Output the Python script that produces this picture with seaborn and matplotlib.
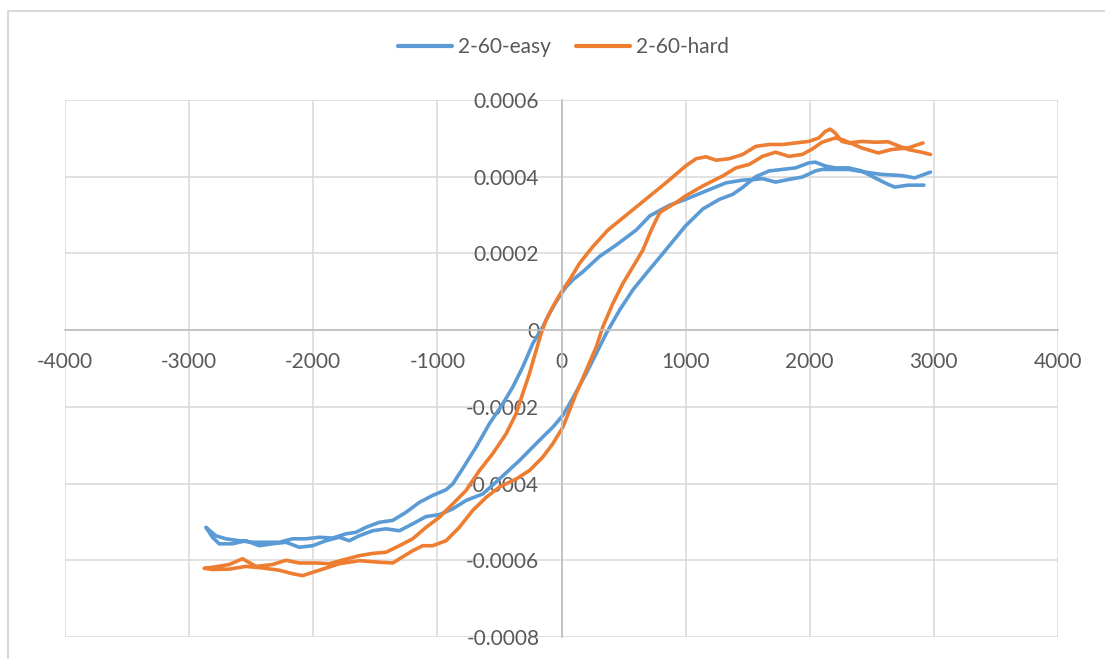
import numpy as np
import pandas as pd
import matplotlib
matplotlib.use("Agg")
import matplotlib.pyplot as plt
import seaborn as sns
from matplotlib.patches import Rectangle

# ---------------- data ----------------
series_names = ["2-60-easy", "2-60-hard"]
series_colors = ["#5B9BD5", "#ED7D31"]

easy_x = [2973, 2845, 2739, 2579, 2445, 2312, 2205, 2099, 2045, 1939, 1832, 1725, 1619, 1565,
          1459, 1325, 1165, 1000, 872, 712, 602, 441, 306, 172, 91, 38, 0, -43, -97, -151,
          -231, -312, -392, -473, -581, -688, -796, -876, -930, -1038, -1145, -1253, -1360,
          -1468, -1575, -1656, -1736, -1844, -1951, -2059, -2167, -2274, -2382, -2489, -2597,
          -2704, -2785, -2865,
          -2812, -2758, -2650, -2543, -2435, -2328, -2220, -2113, -2005, -1898, -1790, -1710,
          -1629, -1521, -1414, -1306, -1199, -1091, -984, -876, -769, -634, -500, -339, -177,
          -70, 11, 65, 118, 199, 280, 360, 468, 575, 683, 817, 1000, 1139, 1272, 1379, 1459,
          1565, 1672, 1779, 1885, 1992, 2045, 2125, 2205, 2312, 2419, 2525, 2632, 2685, 2792,
          2920]
easy_y = [0.000412, 0.000397, 0.000403, 0.000406, 0.000412, 0.000419, 0.000419, 0.000419,
          0.000415, 0.000399, 0.000393, 0.000386, 0.000395, 0.000393, 0.000391, 0.000384,
          0.000363, 0.000341, 0.000326, 0.000298, 0.000261, 0.000222, 0.000192, 0.000152,
          0.000131, 0.000113, 0.0000958, 0.0000740, 0.0000436, 0.0000087, -0.0000348,
          -0.0000958, -0.000148, -0.000192, -0.000244, -0.000305, -0.000361, -0.000401,
          -0.000416, -0.000431, -0.000449, -0.000475, -0.000496, -0.000501, -0.000514,
          -0.000527, -0.000531, -0.000542, -0.000540, -0.000544, -0.000544, -0.000553,
          -0.000553, -0.000553, -0.000549, -0.000544, -0.000536, -0.000514,
          -0.000540, -0.000557, -0.000557, -0.000549, -0.000562, -0.000557, -0.000553,
          -0.000566, -0.000562, -0.000549, -0.000540, -0.000549, -0.000536, -0.000523,
          -0.000518, -0.000523, -0.000505, -0.000486, -0.000481, -0.000466, -0.000444,
          -0.000427, -0.000388, -0.000340, -0.000287, -0.000253, -0.000222, -0.000192,
          -0.000161, -0.000113, -0.0000610, -0.0000087, 0.0000523, 0.000105, 0.000148,
          0.000200, 0.000272, 0.000316, 0.000341, 0.000354, 0.000372, 0.000400, 0.000415,
          0.000419, 0.000423, 0.000436, 0.000438, 0.000428, 0.000423, 0.000423, 0.000415,
          0.000397, 0.000380, 0.000373, 0.000378, 0.000378]

hard_x = [2973, 2899, 2792, 2685, 2632, 2525, 2419, 2312, 2259, 2205, 2165, 2125, 2072, 1992,
          1885, 1779, 1672, 1565, 1459, 1352, 1245, 1165, 1085, 1000, 845, 712, 374, 253, 145,
          65, 0, -70, -124, -164, -204, -258, -312, -366, -446, -554, -661, -769, -876, -984,
          -1091, -1199, -1306, -1414, -1521, -1629, -1736, -1871, -1979, -2113, -2220, -2328,
          -2462, -2570, -2677, -2785, -2879,
          -2812, -2677, -2543, -2409, -2274, -2167, -2086, -1952, -1790, -1629, -1468, -1360,
          -1199, -1118, -1038, -930, -823, -715, -607, -500, -366, -258, -151, -70, 11, 65,
          118, 199, 280, 333, 414, 495, 575, 656, 723, 792, 925, 1000, 1139, 1299, 1405, 1512,
          1619, 1725, 1832, 1939, 2019, 2099, 2205, 2259, 2312, 2419, 2552, 2659, 2792, 2912]
hard_y = [0.000458, 0.000464, 0.000471, 0.000484, 0.000491, 0.000490, 0.000492, 0.000488,
          0.000492, 0.000514, 0.000524, 0.000518, 0.000501, 0.000492, 0.000488, 0.000484,
          0.000484, 0.000479, 0.000458, 0.000447, 0.000443, 0.000452, 0.000447, 0.000428,
          0.000385, 0.000350, 0.000261, 0.000218, 0.000174, 0.000131, 0.000100, 0.0000610,
          0.0000261, -0.0000087, -0.0000523, -0.000113, -0.000165, -0.000218, -0.000270,
          -0.000322, -0.000366, -0.000418, -0.000453, -0.000488, -0.000514, -0.000544,
          -0.000562, -0.000579, -0.000582, -0.000588, -0.000597, -0.000609, -0.000607,
          -0.000607, -0.000600, -0.000611, -0.000616, -0.000596, -0.000611, -0.000617,
          -0.000621,
          -0.000624, -0.000623, -0.000616, -0.000620, -0.000626, -0.000635, -0.000640,
          -0.000626, -0.000609, -0.000601, -0.000605, -0.000607, -0.000575, -0.000562,
          -0.000562, -0.000549, -0.000514, -0.000470, -0.000436, -0.000409, -0.000388,
          -0.000366, -0.000331, -0.000296, -0.000253, -0.000209, -0.000165, -0.000105,
          -0.0000436, 0.0000087, 0.0000697, 0.000122, 0.000165, 0.000209, 0.000261,
          0.000307, 0.000333, 0.000350, 0.000376, 0.000402, 0.000423, 0.000432, 0.000453,
          0.000464, 0.000453, 0.000458, 0.000472, 0.000490, 0.000501, 0.000497, 0.000490,
          0.000475, 0.000462, 0.000471, 0.000475, 0.000488]

x_ticks = [-4000, -3000, -2000, -1000, 0, 1000, 2000, 3000, 4000]
x_tick_labels = ["-4000", "-3000", "-2000", "-1000", "0", "1000", "2000", "3000", "4000"]
y_ticks = [-0.0008, -0.0006, -0.0004, -0.0002, 0.0, 0.0002, 0.0004, 0.0006]
y_tick_labels = ["-0.0008", "-0.0006", "-0.0004", "-0.0002", "0", "0.0002", "0.0004", "0.0006"]

# ---------------- build frame ----------------
df = pd.concat([
    pd.DataFrame({"x": easy_x, "y": easy_y, "series": series_names[0],
                  "order": np.arange(len(easy_x))}),
    pd.DataFrame({"x": hard_x, "y": hard_y, "series": series_names[1],
                  "order": np.arange(len(hard_x))}),
], ignore_index=True)

sns.set_theme(style="white")
plt.rcParams["font.family"] = ["Lato", "DejaVu Sans"]

W, H = 1105, 659
fig = plt.figure(figsize=(W / 100, H / 100), dpi=100)
ax = fig.add_axes([65 / W, 1 - 637 / H, (1058 - 65) / W, (637 - 100) / H])

sns.lineplot(data=df, x="x", y="y", hue="series", sort=False, estimator=None,
             palette=series_colors, linewidth=2.6, ax=ax,
             solid_joinstyle="round", solid_capstyle="round")

ax.set_xlim(-4000, 4000)
ax.set_ylim(-0.0008, 0.0006)
ax.set_xticks(x_ticks)
ax.set_xticklabels(x_tick_labels)
ax.set_yticks(y_ticks)
ax.set_yticklabels(y_tick_labels)
ax.set_xlabel("")
ax.set_ylabel("")

ax.grid(True, color="#D9D9D9", linewidth=1.1)
ax.set_axisbelow(True)
for s in ["top", "right"]:
    ax.spines[s].set_visible(False)
ax.spines["left"].set_position(("data", 0))
ax.spines["bottom"].set_position(("data", 0))
for s in ["left", "bottom"]:
    ax.spines[s].set_color("#BFBFBF")
    ax.spines[s].set_linewidth(1.2)
ax.tick_params(axis="both", length=0, labelsize=15, colors="#595959")
ax.tick_params(axis="x", pad=16)
ax.tick_params(axis="y", pad=16)

leg = ax.legend(loc="center", bbox_to_anchor=(0.51, (H - 47) / H), bbox_transform=fig.transFigure,
                ncol=2, frameon=False, fontsize=15, handlelength=2.6, handletextpad=0.3,
                columnspacing=1.2)
for t in leg.get_texts():
    t.set_color("#595959")
for l in leg.get_lines():
    l.set_linewidth(3.0)

# chart-area border (cut by image edge on right/bottom)
fig.patches.append(Rectangle((8 / W, -0.1), 1.2, 1.1 - 11 / H, transform=fig.transFigure,
                             facecolor="none", edgecolor="#D9D9D9", linewidth=1.5))

fig.savefig("out.png", dpi=100)
